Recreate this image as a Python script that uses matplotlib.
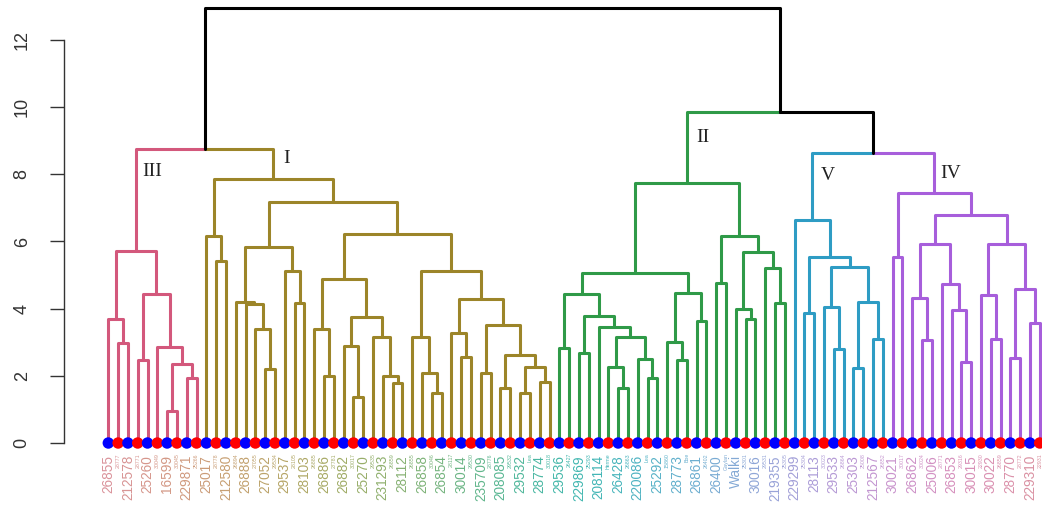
import numpy as np
import matplotlib.pyplot as plt

# dendrogram nodes: (left, right, height); ints are leaf numbers (1..96, left to right)
tree_III = ((1, (2, 3, 2.99), 3.70),
            ((4, 5, 2.47), (6, ((7, 8, 0.95), (9, 10, 1.95), 2.35), 2.87), 4.44),
            5.73)

tree_I = ((11, (12, 13, 5.43), 6.16),
          (((14, (15, (16, (17, 18, 2.20), 3.39), 4.14), 4.21),
            (19, (20, 21, 4.18), 5.13), 5.85),
           (((22, (23, 24, 2.00), 3.39),
             ((25, (26, 27, 1.38), 2.90), (28, (29, (30, 31, 1.78), 2.00), 3.17), 3.76), 4.87),
            ((32, (33, (34, 35, 1.48), 2.08), 3.17),
             ((36, (37, 38, 2.57), 3.27),
              ((39, 40, 2.09), ((41, 42, 1.63), ((43, 44, 1.50), (45, 46, 1.83), 2.27), 2.62), 3.51),
              4.29), 5.12),
            6.22), 7.19),
          7.86)

tree_II = ((((47, 48, 2.84),
             ((49, 50, 2.67),
              (51, ((52, (53, 54, 1.63), 2.27), (55, (56, 57, 1.93), 2.50), 3.17), 3.45), 3.79), 4.43),
            ((58, (59, 60, 2.47), 3.02), (61, 62, 3.63), 4.48), 5.05),
           ((63, 64, 4.76), ((65, (66, 67, 3.68), 3.98), (68, (69, 70, 4.18), 5.20), 5.70), 6.16),
           7.75)

tree_V = (71, ((72, 73, 3.86),
               ((74, (75, 76, 2.79), 4.06), ((77, 78, 2.22), (79, 80, 3.10), 4.21), 5.23), 5.55),
          6.64)

tree_IV = ((81, 82, 5.55),
           (((83, (84, 85, 3.07), 4.31), (86, (87, (88, 89, 2.42), 3.96), 4.73), 5.92),
            ((90, (91, 92, 3.10), 4.41), ((93, 94, 2.52), (95, 96, 3.56), 4.58), 5.92), 6.79),
           7.44)

h_III_I = 8.75
h_V_IV = 8.63
h_II_VIV = 9.85
h_root = 12.95

big_labels = ["26855", "212578", "25260", "16599", "229871", "25017", "212580", "26888",
              "27052", "29537", "28103", "26886", "26882", "25270", "231293", "28112",
              "26858", "26854", "30014", "235709", "208085", "29532", "28774", "29536",
              "229869", "208114", "26428", "220086", "25292", "28773", "26861", "26400",
              "Walki", "30016", "219355", "229299", "28113", "29533", "25303", "212567",
              "30021", "26862", "25006", "26853", "30015", "30022", "28770", "229310"]
small_labels = ["28777", "28771", "30049", "30045", "25266", "28778", "26894", "27055",
                "29534", "28105", "26885", "27781", "30017", "29535", "26859", "26855",
                "30046", "28117", "29530", "28776", "29532", "Lea", "30018", "26427",
                "25293", "Herme", "26863", "Lea", "15860", "Boe", "26402", "Gaylan",
                "25301", "29531", "25305", "25304", "30023", "26864", "25008", "26852",
                "30017", "30024", "28771", "29316", "22930", "26859", "28772", "22931"]

col_III = "#D3587C"
col_I = "#9C8529"
col_II = "#2F9A48"
col_V = "#2E9CC4"
col_IV = "#A75EDB"


def hcl(h, c, l):
    # polar LUV -> sRGB
    hr = np.radians(h)
    u, v = c * np.cos(hr), c * np.sin(hr)
    Y = ((l + 16) / 116) ** 3
    xn, yn, zn = 0.95047, 1.0, 1.08883
    un = 4 * xn / (xn + 15 * yn + 3 * zn)
    vn = 9 * yn / (xn + 15 * yn + 3 * zn)
    up = u / (13 * l) + un
    vp = v / (13 * l) + vn
    X = Y * 9 * up / (4 * vp)
    Z = Y * (12 - 3 * up - 20 * vp) / (4 * vp)
    M = np.array([[3.2406, -1.5372, -0.4986],
                  [-0.9689, 1.8758, 0.0415],
                  [0.0557, -0.2040, 1.0570]])
    rgb = M @ np.array([X, Y, Z])
    rgb = np.where(rgb <= 0.0031308, 12.92 * rgb, 1.055 * np.abs(rgb) ** (1 / 2.4) - 0.055)
    return tuple(np.clip(rgb, 0, 1))


fig = plt.figure(figsize=(10.42, 5.07), dpi=100)
ax = fig.add_axes([64 / 1042, 64 / 507, 1 - 64 / 1042, 440 / 507])
ax.set_xlim(-3.52, 96.23)
ax.set_ylim(0, 13.1)

lw = 2.2


def link(xp, hp, xc, hc, color):
    ax.plot([xp, xc, xc], [hp, hp, hc], color=color, lw=lw,
            solid_capstyle='round', solid_joinstyle='round', clip_on=False, zorder=2)


def draw(node, color):
    if isinstance(node, int):
        return float(node), 0.0
    left, right, h = node
    xl, hl = draw(left, color)
    xr, hr = draw(right, color)
    x = (xl + xr) / 2
    link(x, h, xl, hl, color)
    link(x, h, xr, hr, color)
    return x, h


x3, h3 = draw(tree_III, col_III)
x1, h1 = draw(tree_I, col_I)
x2, h2 = draw(tree_II, col_II)
x5, h5 = draw(tree_V, col_V)
x4, h4 = draw(tree_IV, col_IV)

xa = (x3 + x1) / 2
link(xa, h_III_I, x3, h3, col_III)
link(xa, h_III_I, x1, h1, col_I)
xb = (x5 + x4) / 2
link(xb, h_V_IV, x5, h5, col_V)
link(xb, h_V_IV, x4, h4, col_IV)
xc = (x2 + xb) / 2
link(xc, h_II_VIV, x2, h2, col_II)
link(xc, h_II_VIV, xb, h_V_IV, 'black')
xr = (xa + xc) / 2
link(xr, h_root, xa, h_III_I, 'black')
link(xr, h_root, xc, h_II_VIV, 'black')

# leaf markers
n = 96
leaf_x = np.arange(1, n + 1)
mcols = ['#0000FF' if i % 2 == 0 else '#FF0000' for i in range(n)]
ax.scatter(leaf_x, np.zeros(n), s=68, c=mcols, zorder=3, clip_on=False, linewidths=0)

# leaf labels
for i in range(n):
    col = hcl(360 * i / n + 5, 46, 68)
    if i % 2 == 0:
        ax.text(leaf_x[i], -0.36, big_labels[i // 2], rotation=90, ha='center', va='top',
                fontsize=9.8, family='Liberation Sans', color=col, clip_on=False)
    else:
        ax.text(leaf_x[i], -0.3, small_labels[i // 2], rotation=90, ha='center', va='top',
                fontsize=3.8, family='Liberation Sans', color=col, clip_on=False)

# cluster names
for txt, x, y in [("III", 5.49, 8.08), ("I", 19.19, 8.48), ("II", 61.6, 9.10),
                  ("V", 74.35, 7.96), ("IV", 86.94, 8.01)]:
    ax.text(x, y, txt, ha='center', va='center', fontsize=14,
            family='Liberation Serif', color='#222222')

for s in ['top', 'right', 'bottom']:
    ax.spines[s].set_visible(False)
ax.spines['left'].set_bounds(0, 12)
ax.spines['left'].set_color('#333333')
ax.spines['left'].set_linewidth(1.0)
ax.set_xticks([])
ax.set_yticks(np.arange(0, 13, 2))
ax.tick_params(axis='y', length=10, width=1.0, color='#333333', pad=14,
               labelsize=13, labelcolor='#333333')
for t in ax.get_yticklabels():
    t.set_rotation(90)
    t.set_va('center')
    t.set_family('Liberation Sans')

fig.savefig("out.png", dpi=100)
